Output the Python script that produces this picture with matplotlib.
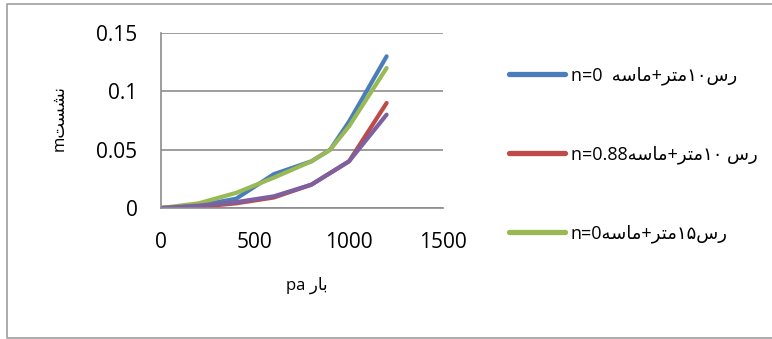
import matplotlib
matplotlib.use("Agg")
import matplotlib.pyplot as plt
from matplotlib.lines import Line2D

plt.rcParams['font.family'] = ['Open Sans', 'DejaVu Sans']

# load in pa, settlement in m
load = [0, 200, 400, 600, 800, 900, 1000, 1200]
clay10_n0 = [0, 0.002, 0.008, 0.029, 0.04, 0.05, 0.074, 0.13]
clay10_n088 = [0, 0.001, 0.004, 0.009, 0.02, 0.03, 0.04, 0.09]
clay15_n0 = [0, 0.004, 0.013, 0.026, 0.04, 0.05, 0.07, 0.12]
clay15_n088 = [0, 0.002, 0.005, 0.01, 0.02, 0.03, 0.04, 0.08]

# arabic written in presentation forms, visual order (mpl does no shaping)
labels = [
    "n=0  \ufeea\ufeb3\ufe8e\ufee3+\ufeae\ufe98\ufee3\u06f1\u06f0\ufeb1\ufead",
    "n=0.88\ufeea\ufeb3\ufe8e\ufee3+\ufeae\ufe98\ufee3\u06f1\u06f0 \ufeb1\ufead",
    "n=0\ufeea\ufeb3\ufe8e\ufee3+\ufeae\ufe98\ufee3\u06f1\u06f5\ufeb1\ufead",
]
xlabel = "pa \ufead\ufe8e\ufe91"
ylabel = "m\ufe96\ufeb4\ufeb8\ufee7"

colors = ['#4a7ebb', '#be4b48', '#98b954', '#7d60a0']

fig = plt.figure(figsize=(7.72, 3.39), dpi=100)
ax = fig.add_axes([161 / 772, 1 - 208 / 339, 282 / 772, 175 / 339])

series = [clay10_n0, clay10_n088, clay15_n0, clay15_n088]
names = labels + ['_nolegend_']
for ys, c, nm in zip(series, colors, names):
    ax.plot(load, ys, color=c, lw=3.0, solid_capstyle='round', label=nm)

ax.set_xlim(0, 1500)
ax.set_ylim(0, 0.15)
ax.set_xticks([0, 500, 1000, 1500])
ax.set_yticks([0, 0.05, 0.1, 0.15])
ax.set_yticklabels(['0', '0.05', '0.1', '0.15'])
ax.tick_params(length=0, labelsize=15, pad=17)
ax.yaxis.grid(True, color='#8c8c8c', lw=1.2)
ax.set_axisbelow(True)
for s in ['top', 'right']:
    ax.spines[s].set_visible(False)
for s in ['left', 'bottom']:
    ax.spines[s].set_color('#8c8c8c')
    ax.spines[s].set_linewidth(1.2)

fig.text(307 / 772, 1 - 285 / 339, xlabel, ha='center', va='center', fontsize=12)
fig.text(60 / 772, 1 - 118 / 339, ylabel, ha='center', va='center', fontsize=12,
         rotation=90)

leg = ax.legend(loc='center left', bbox_to_anchor=(502 / 772, 1 - 155 / 339),
                bbox_transform=fig.transFigure, frameon=False, fontsize=13,
                handlelength=3.1, handletextpad=0.3, labelspacing=3.35,
                borderaxespad=0)
for h in leg.get_lines():
    h.set_linewidth(3.8)

# outer chart frame (right side is cut off in the original)
fx = [1.01, 7 / 772, 7 / 772, 1.01]
fy = [1 - 4 / 339, 1 - 4 / 339, 1 - 338 / 339, 1 - 338 / 339]
fig.add_artist(Line2D(fx, fy, transform=fig.transFigure, color='#a6a6a6', lw=1.3))

fig.savefig('out.png', dpi=100)
